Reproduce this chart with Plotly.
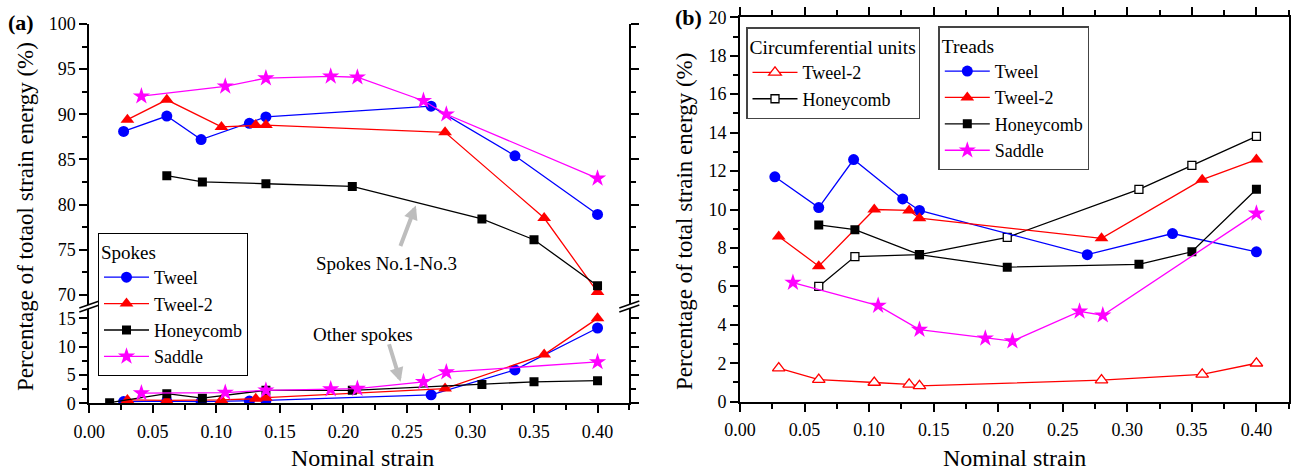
import plotly.graph_objects as go

W, H = 1291, 474
def X(px): return px / W
def Y(py): return 1 - py / H

FONT = "'Liberation Serif', 'Times New Roman', 'DejaVu Serif', serif"

# ---------------- data: panel (a) spokes ----------------
a_tweel_x = [0.027, 0.061, 0.088, 0.126, 0.139, 0.269, 0.335, 0.400]
a_tweel_main = [88.1, 89.8, 87.2, 89.0, 89.7, 90.9, 85.4, 78.9]
a_tweel_other = [0.3, 0.4, 0.3, 0.4, 0.5, 1.5, 5.9, 13.3]

a_tweel2_x = [0.030, 0.061, 0.104, 0.131, 0.139, 0.280, 0.358, 0.400]
a_tweel2_main = [89.4, 91.6, 88.6, 88.8, 88.8, 88.0, 78.5, 70.3]
a_tweel2_other = [0.6, 0.5, 0.6, 0.8, 1.0, 2.6, 8.6, 15.0]

a_honey_main_x = [0.061, 0.089, 0.139, 0.207, 0.309, 0.350, 0.400]
a_honey_main = [83.2, 82.5, 82.3, 82.0, 78.4, 76.1, 71.0]
a_honey_other_x = [0.016, 0.061, 0.089, 0.139, 0.207, 0.309, 0.350, 0.400]
a_honey_other = [0.1, 1.7, 0.9, 2.3, 2.3, 3.3, 3.8, 4.0]

a_saddle_x = [0.041, 0.107, 0.139, 0.190, 0.211, 0.263, 0.281, 0.400]
a_saddle_main = [92.0, 93.1, 94.0, 94.2, 94.1, 91.5, 90.0, 82.9]
a_saddle_other = [1.8, 1.9, 2.3, 2.5, 2.6, 3.8, 5.5, 7.3]

# ---------------- data: panel (b) ----------------
b_tweel_x = [0.027, 0.061, 0.088, 0.126, 0.139, 0.269, 0.335, 0.400]
b_tweel_tread = [11.7, 10.1, 12.6, 10.55, 9.95, 7.65, 8.75, 7.8]

b_tweel2_x = [0.030, 0.061, 0.104, 0.131, 0.139, 0.280, 0.358, 0.400]
b_tweel2_tread = [8.6, 7.05, 10.0, 9.95, 9.55, 8.5, 11.55, 12.6]
b_tweel2_circ = [1.75, 1.15, 1.0, 0.9, 0.82, 1.12, 1.42, 2.0]

b_honey_x = [0.061, 0.089, 0.139, 0.207, 0.309, 0.350, 0.400]
b_honey_tread = [9.2, 8.95, 7.65, 7.0, 7.15, 7.8, 11.05]
b_honey_circ = [6.0, 7.55, 7.65, 8.55, 11.05, 12.3, 13.8]

b_saddle_x = [0.041, 0.107, 0.139, 0.190, 0.211, 0.263, 0.281, 0.400]
b_saddle_tread = [6.2, 5.0, 3.75, 3.3, 3.15, 4.7, 4.5, 9.8]

x_ticks = [0.00, 0.05, 0.10, 0.15, 0.20, 0.25, 0.30, 0.35, 0.40]
x_ticktext = ["0.00", "0.05", "0.10", "0.15", "0.20", "0.25", "0.30", "0.35", "0.40"]

BLUE, RED, BLACK, MAG = "#0000ff", "#ff0000", "#000000", "#ff00ff"
LW = 1.3

styles = {
    "Tweel": dict(color=BLUE, symbol="circle", size=11),
    "Tweel-2": dict(color=RED, symbol="triangle-up", size=12),
    "Honeycomb": dict(color=BLACK, symbol="square", size=9),
    "Saddle": dict(color=MAG, symbol="star", size=13),
}

fig = go.Figure()

def add(x, y, name, xa, ya, legend, group, show, open_=False):
    st = styles[name]
    if open_:
        marker = dict(symbol=st["symbol"], size=st["size"] - 1, color="white",
                      line=dict(color=st["color"], width=1.3))
    else:
        marker = dict(symbol=st["symbol"], size=st["size"], color=st["color"],
                      line=dict(width=0))
    fig.add_trace(go.Scatter(
        x=x, y=y, name=name, mode="lines+markers", xaxis=xa, yaxis=ya,
        line=dict(color=st["color"], width=LW), marker=marker,
        legend=legend, legendgroup=group, showlegend=show))

# panel (a)
series_a = [
    ("Tweel", a_tweel_x, a_tweel_main, a_tweel_x, a_tweel_other),
    ("Tweel-2", a_tweel2_x, a_tweel2_main, a_tweel2_x, a_tweel2_other),
    ("Honeycomb", a_honey_main_x, a_honey_main, a_honey_other_x, a_honey_other),
    ("Saddle", a_saddle_x, a_saddle_main, a_saddle_x, a_saddle_other),
]
for name, xm, ym, xo, yo in series_a:
    add(xm, ym, name, "x", "y2", "legend", "a_" + name, True)
    add(xo, yo, name, "x", "y", "legend", "a_" + name, False)

# panel (b) circumferential units
add(b_tweel2_x, b_tweel2_circ, "Tweel-2", "x2", "y3", "legend2", "bc_t2", True, open_=True)
add(b_honey_x, b_honey_circ, "Honeycomb", "x2", "y3", "legend2", "bc_h", True, open_=True)
# panel (b) treads
add(b_tweel_x, b_tweel_tread, "Tweel", "x2", "y3", "legend3", "bt_t", True)
add(b_tweel2_x, b_tweel2_tread, "Tweel-2", "x2", "y3", "legend3", "bt_t2", True)
add(b_honey_x, b_honey_tread, "Honeycomb", "x2", "y3", "legend3", "bt_h", True)
add(b_saddle_x, b_saddle_tread, "Saddle", "x2", "y3", "legend3", "bt_s", True)

AX = dict(showline=True, linecolor="black", linewidth=1.8, ticks="outside",
          ticklen=8, tickwidth=1.5, tickcolor="black", showgrid=False, zeroline=False,
          automargin=False,
          tickfont=dict(family=FONT, size=18, color="black"))
MINOR = dict(ticklen=5, tickwidth=1.5, ticks="outside", tickcolor="black")

xa_dom = [X(89.3), X(629.3)]
xb_dom = [X(740), X(1288.7)]

LEG = dict(xanchor="left", yanchor="top", bgcolor="white",
           font=dict(family=FONT, size=18), tracegroupgap=0, itemwidth=45)

fig.update_layout(
    width=W, height=H, margin=dict(l=0, r=0, t=0, b=0, pad=0, autoexpand=False),
    paper_bgcolor="white", plot_bgcolor="white", hovermode=False,
    font=dict(family=FONT, size=18, color="black"),
    xaxis=dict(AX, domain=xa_dom, anchor="y", range=[0, 0.425],
               tickvals=x_ticks, ticktext=x_ticktext, ticklabelstandoff=3,
               minor=dict(MINOR, dtick=0.025, tick0=0)),
    xaxis3=dict(AX, domain=xa_dom, anchor="y2", side="top", range=[0, 0.425], matches="x",
                tickvals=x_ticks, showticklabels=False, ticklen=5,
                minor=dict(MINOR, dtick=0.025, tick0=0, ticklen=3)),
    yaxis=dict(AX, domain=[Y(403.3), Y(307.6)], anchor="x", range=[0, 16.9],
               tickvals=[0, 5, 10, 15], mirror="ticks",
               minor=dict(MINOR, dtick=2.5, tick0=0)),
    yaxis2=dict(AX, domain=[Y(305.6), Y(24)], anchor="x", range=[68.8, 100],
                tickvals=[70, 75, 80, 85, 90, 95, 100], mirror="ticks",
                minor=dict(MINOR, dtick=2.5, tick0=0)),
    xaxis2=dict(AX, domain=xb_dom, anchor="y3", range=[0, 0.425],
                tickvals=x_ticks, ticktext=x_ticktext, ticklabelstandoff=3, mirror="ticks",
                minor=dict(MINOR, dtick=0.025, tick0=0)),
    yaxis3=dict(AX, domain=[Y(401.7), Y(17.3)], anchor="x2", range=[0, 20],
                dtick=2, tick0=0, mirror="ticks",
                minor=dict(MINOR, dtick=1, tick0=0)),
    legend=dict(LEG, x=X(98), y=Y(233.3), bordercolor="black", borderwidth=1,
                title=dict(text="Spokes", font=dict(family=FONT, size=19))),
    legend2=dict(LEG, x=X(746), y=Y(27.3), bordercolor="#444444", borderwidth=1.5,
                 title=dict(text="Circumferential units", font=dict(family=FONT, size=19.5))),
    legend3=dict(LEG, x=X(938.3), y=Y(26), bordercolor="#444444", borderwidth=1.5,
                 title=dict(text="Treads", font=dict(family=FONT, size=19.5))),
)

def txt(text, px, py, size, angle=0):
    return dict(text=text, x=X(px), y=Y(py), xref="paper", yref="paper",
                xanchor="center", yanchor="middle", textangle=angle,
                showarrow=False, font=dict(family=FONT, size=size, color="black"))

annotations = [
    txt("<b>(a)</b>", 21, 23, 22),
    txt("<b>(b)</b>", 688, 18, 22),
    txt("Percentage of totaol strain energy (%)", 25, 217, 23, -90),
    txt("Percentage of total strain energy (%)", 684, 222, 23, -90),
    txt("Nominal strain", 362, 458, 24),
    txt("Nominal strain", 1014, 458, 24),
    txt("Spokes No.1-No.3", 386, 263, 19),
    txt("Other spokes", 363, 334, 19),
    dict(text="", x=0.257, y=79.9, xref="x", yref="y2", ax=-16, ay=42,
         showarrow=True, arrowhead=2, arrowsize=0.7, arrowwidth=4, arrowcolor="#bdbdbd"),
    dict(text="", x=0.245, y=3.8, xref="x", yref="y", ax=-12, ay=-39,
         showarrow=True, arrowhead=2, arrowsize=0.7, arrowwidth=4, arrowcolor="#bdbdbd"),
]
fig.update_layout(annotations=annotations)

# axis break marks
shapes = []
for cx in (89.3, 629.3):
    cy = 306.5
    p = [(cx - 10, cy + 5.5), (cx + 10, cy - 1.5), (cx + 10, cy - 5.5), (cx - 10, cy + 1.5)]
    path = "M " + " L ".join(f"{X(a)},{Y(b)}" for a, b in p) + " Z"
    shapes.append(dict(type="path", path=path, xref="paper", yref="paper",
                       fillcolor="white", line=dict(width=0), layer="above"))
    for (x0, y0), (x1, y1) in ((p[0], p[1]), (p[3], p[2])):
        shapes.append(dict(type="line", x0=X(x0), y0=Y(y0), x1=X(x1), y1=Y(y1),
                           xref="paper", yref="paper", line=dict(color="black", width=1.5),
                           layer="above"))
fig.update_layout(shapes=shapes)

fig.write_html("out.html", config={"displayModeBar": False},
               post_script="document.body.style.margin='0px';")
